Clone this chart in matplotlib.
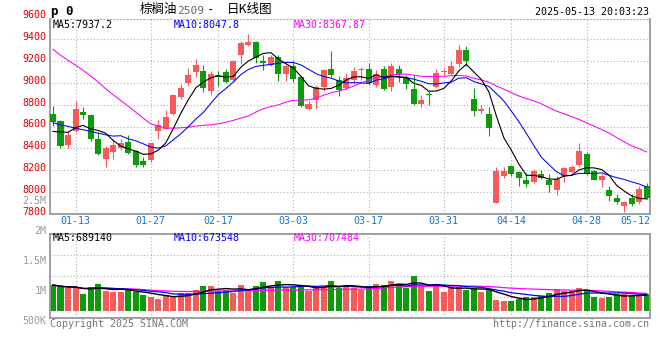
import matplotlib
matplotlib.use("Agg")
import matplotlib.pyplot as plt
import numpy as np
import pandas as pd

W, H = 660, 360

# trading days shown (MM-DD)
jan = ["08", "09", "10", "13", "14", "15", "16", "17", "20", "21", "22", "23", "24", "27"]
feb = ["05", "06", "07", "10", "11", "12", "13", "14", "17", "18", "19", "20", "21", "24",
       "25", "26", "27", "28"]
mar = ["03", "04", "05", "06", "07", "10", "11", "12", "13", "14", "17", "18", "19", "20",
       "21", "24", "25", "26", "27", "28", "31"]
apr = ["01", "02", "03", "07", "08", "09", "10", "11", "14", "15", "16", "17", "18", "21",
       "22", "23", "24", "25", "28", "29", "30"]
may = ["06", "07", "08", "09", "12", "13"]
dates = (["01-" + d for d in jan] + ["02-" + d for d in feb] + ["03-" + d for d in mar]
         + ["04-" + d for d in apr] + ["05-" + d for d in may])

opens = [8718, 8654, 8436, 8556, 8733, 8703, 8488, 8300, 8372, 8403,
         8458, 8375, 8283, 8290, 8562, 8580, 8718, 8871, 9002, 9100,
         9113, 8923, 9076, 9100, 9024, 9253, 9345, 9370, 9198, 9162,
         9235, 9085, 9152, 9055, 8764, 8840, 8963, 9131, 9024, 8957,
         9024, 9116, 9131, 8978, 9125, 8963, 9131, 9055, 8948, 8810,
         8895, 8963, 9100, 9079, 9171, 9305, 8856, 8739, 8718, 7898,
         8152, 8240, 8182, 8112, 8097, 8167, 8112, 8023, 8146, 8188,
         8244, 8351, 8198, 8115, 8020, 7947, 7876, 7947, 7907, 8060]
highs = [8785, 8660, 8562, 8831, 8776, 8718, 8550, 8418, 8488, 8488,
         8525, 8390, 8326, 8452, 8657, 8748, 8901, 8993, 9137, 9223,
         9168, 9107, 9107, 9125, 9210, 9382, 9452, 9388, 9253, 9253,
         9253, 9162, 9198, 9070, 8831, 8978, 9131, 9290, 9064, 9094,
         9146, 9146, 9186, 9116, 9152, 9186, 9168, 9076, 9070, 8892,
         8923, 9131, 9137, 9198, 9351, 9336, 8957, 8800, 8779, 8234,
         8228, 8253, 8198, 8176, 8213, 8207, 8167, 8146, 8228, 8253,
         8452, 8366, 8207, 8167, 8060, 7984, 7913, 7984, 8060, 8085]
lows = [8605, 8400, 8403, 8550, 8672, 8464, 8340, 8234, 8305, 8390,
        8350, 8228, 8234, 8274, 8488, 8574, 8709, 8856, 8972, 9054,
        8917, 8892, 8972, 9002, 9020, 9174, 9340, 9186, 9116, 9155,
        9015, 9015, 9009, 8779, 8748, 8764, 8923, 9054, 8880, 8932,
        8993, 9024, 8978, 8963, 8932, 8923, 9009, 8947, 8794, 8779,
        8800, 8954, 9070, 9075, 9146, 9152, 8693, 8712, 8513, 7898,
        8127, 8146, 8060, 8045, 8085, 8121, 8005, 7974, 8091, 8176,
        8234, 8160, 8110, 8045, 7922, 7892, 7815, 7876, 7892, 7938]
closes = [8641, 8418, 8525, 8764, 8709, 8482, 8345, 8400, 8433, 8452,
          8354, 8244, 8250, 8452, 8617, 8687, 8892, 8954, 9076, 9162,
          8954, 9085, 9051, 9009, 9204, 9369, 9370, 9229, 9180, 9235,
          9079, 9152, 9039, 8788, 8810, 8963, 9116, 9070, 8932, 9045,
          9113, 9120, 9002, 9085, 8941, 9158, 9085, 8987, 8810, 8847,
          8890, 9094, 9105, 9152, 9305, 9198, 8739, 8764, 8586, 8198,
          8198, 8167, 8133, 8075, 8198, 8127, 8069, 8121, 8219, 8234,
          8375, 8167, 8115, 8146, 7968, 7913, 7913, 7889, 8029, 7947]
# volume in thousands of lots
volumes = [1129, 1026, 982, 1026, 733, 1026, 1173, 880, 836, 836,
           909, 836, 689, 616, 513, 689, 586, 762, 762, 909,
           1085, 1085, 880, 909, 792, 1129, 909, 1085, 1275, 1056,
           1305, 1026, 1026, 1129, 880, 982, 1085, 1305, 982, 1129,
           982, 909, 1085, 1173, 1129, 1305, 1173, 982, 1525, 1085,
           880, 1173, 836, 1026, 1026, 909, 982, 836, 938, 469,
           425, 440, 498, 616, 616, 645, 762, 953, 865, 865,
           982, 880, 616, 572, 616, 718, 718, 645, 645, 718]

# moving averages at the left edge (need data from before the window)
ma5_head = [8556, 8550, 8548, 8590]
ma10_head = [8635, 8617, 8602, 8586, 8571, 8556, 8540, 8525, 8513]
ma30_head = [9308, 9253, 9207, 9162, 9116, 9064, 9009, 8947, 8892, 8840,
             8788, 8733, 8678, 8626, 8605, 8586, 8586, 8589, 8595, 8605,
             8611, 8617, 8626, 8641, 8657, 8678, 8697, 8733, 8764]

price_ticks = [9600, 9400, 9200, 9000, 8800, 8600, 8400, 8200, 8000, 7800]
date_ticks = ["01-13", "01-27", "02-17", "03-03", "03-17", "03-31", "04-14", "04-28", "05-12"]
vol_labels = ["2M", "1.5M", "1M", "500K"]
vol_label_pos = [1.039, 0.682, 0.325, -0.032]

RED = "#f65a5a"
GREEN = "#0b9b0b"
GRID = "#b0b0b0"
FRAME = "#999999"
FS = 7.2

plt.rcParams["font.family"] = ["DejaVu Sans Mono", "Noto Sans CJK SC"]


def ma(values, n, head):
    s = pd.Series(values, dtype=float).rolling(n).mean()
    s.iloc[:len(head)] = head
    return s


def ftxt(x, y, s, **kw):
    fig.text(x / W, 1 - y / H, s, **kw)


o = np.array(opens, float)
c = np.array(closes, float)
x = np.arange(len(dates))
colors = [RED if cc >= oo else GREEN for oo, cc in zip(o, c)]

fig = plt.figure(figsize=(W / 100, H / 100), dpi=100)
fig.patch.set_facecolor("white")

ax = fig.add_axes([50.5 / W, 1 - 214 / H, 599.5 / W, 195 / H])
ax2 = fig.add_axes([50.5 / W, 1 - 318 / H, 599.5 / W, 84 / H])

dot = (0, (1, 2))
xmin, xmax = -0.33, 79.44

# ---- price panel
ax.set_xlim(xmin, xmax)
ax.set_ylim(7800, 9585)
for v in price_ticks[1:-1]:
    ax.axhline(v, color=GRID, ls=dot, lw=0.8, zorder=0)
for d in date_ticks[:-1]:
    ax.axvline(dates.index(d), color=GRID, ls=dot, lw=0.8, zorder=0)

ax.vlines(x, lows, highs, colors=colors, lw=0.8, zorder=2)
ax.bar(x, np.maximum(np.abs(c - o), 9), bottom=np.minimum(o, c), width=0.8,
       color=colors, linewidth=0, zorder=3)

ax.plot(x, ma(closes, 30, ma30_head), color="#ff00ff", lw=0.75, zorder=4)
ax.plot(x, ma(closes, 10, ma10_head), color="#0000ff", lw=0.75, zorder=4)
ax.plot(x, ma(closes, 5, ma5_head), color="black", lw=0.8, zorder=4)

ax.set_xticks([])
ax.set_yticks([])
for s in ["left", "right", "bottom"]:
    ax.spines[s].set_color(FRAME)
    ax.spines[s].set_linewidth(1.3)
ax.spines["top"].set_color(GRID)
ax.spines["top"].set_linestyle(dot)
ax.spines["top"].set_linewidth(0.8)

ytr = ax.get_yaxis_transform()
for v in price_ticks:
    ax.text(-0.007, v + 20, str(v), transform=ytr, ha="right", va="center",
            color="#e00000", fontsize=FS, clip_on=False)
ax.text(-0.007, 7921, "2.5M", transform=ytr, ha="right", va="center",
        color=FRAME, fontsize=FS, clip_on=False)

xtr = ax.get_xaxis_transform()
for d in date_ticks:
    xi = dates.index(d) - (0.5 if d == date_ticks[-1] else 0)
    ax.text(xi, -0.038, d, transform=xtr, ha="center", va="center",
            color="#1177cc", fontsize=FS, clip_on=False)

ax.text(0.004, 0.97, "MA5:7937.2", transform=ax.transAxes, color="black",
        fontsize=FS, va="center")
ax.text(0.206, 0.97, "MA10:8047.8", transform=ax.transAxes, color="#0000ff",
        fontsize=FS, va="center")
ax.text(0.406, 0.97, "MA30:8367.87", transform=ax.transAxes, color="#ff00ff",
        fontsize=FS, va="center")

# ---- volume panel
ax2.set_xlim(xmin, xmax)
y0, y1 = -321, 3374
ax2.set_ylim(y0, y1)
for f in [0.25, 0.5, 0.75]:
    ax2.axhline(y0 + f * (y1 - y0), color=GRID, ls=dot, lw=0.8, zorder=0)
for d in date_ticks[:-1]:
    ax2.axvline(dates.index(d), color=GRID, ls=dot, lw=0.8, zorder=0)

ax2.bar(x, volumes, width=0.8, color=colors, linewidth=0, zorder=2)
vs = pd.Series(volumes, dtype=float)
ax2.plot(x, vs.rolling(30, min_periods=1).mean(), color="#ff00ff", lw=0.9, zorder=3)
ax2.plot(x, vs.rolling(10, min_periods=1).mean(), color="#0000ff", lw=0.9, zorder=3)
ax2.plot(x, vs.rolling(5, min_periods=1).mean(), color="black", lw=1.0, zorder=3)

ax2.set_xticks([])
ax2.set_yticks([])
for s in ax2.spines.values():
    s.set_color(FRAME)
    s.set_linewidth(1.3)

for lab, pos in zip(vol_labels, vol_label_pos):
    ax2.text(-0.007, pos, lab, transform=ax2.transAxes, ha="right", va="center",
             color=FRAME, fontsize=FS, clip_on=False)

ax2.text(0.004, 0.95, "MA5:689140", transform=ax2.transAxes, color="black",
         fontsize=FS, va="center")
ax2.text(0.206, 0.95, "MA10:673548", transform=ax2.transAxes, color="#0000ff",
         fontsize=FS, va="center")
ax2.text(0.406, 0.95, "MA30:707484", transform=ax2.transAxes, color="#ff00ff",
         fontsize=FS, va="center")

# ---- header / footer
ftxt(51, 11, "p 0", fontsize=9, fontweight="bold", va="center", color="black")
ftxt(140, 10, "棕榈油", fontsize=9, va="center", family="Noto Sans CJK SC")
ftxt(177, 10.5, "2509", fontsize=8, va="center", color="#666666")
ftxt(207, 10, "-", fontsize=9, va="center")
ftxt(227, 10, "日K线图", fontsize=9, va="center", family="Noto Sans CJK SC")
ftxt(649, 12, "2025-05-13 20:03:23", fontsize=FS, ha="right", va="center")
ftxt(50, 324, "Copyright 2025 SINA.COM", fontsize=FS, va="center", color="#777777")
ftxt(649, 324, "http://finance.sina.com.cn", fontsize=FS, ha="right", va="center",
     color="#777777")

fig.savefig("out.png", dpi=100)
